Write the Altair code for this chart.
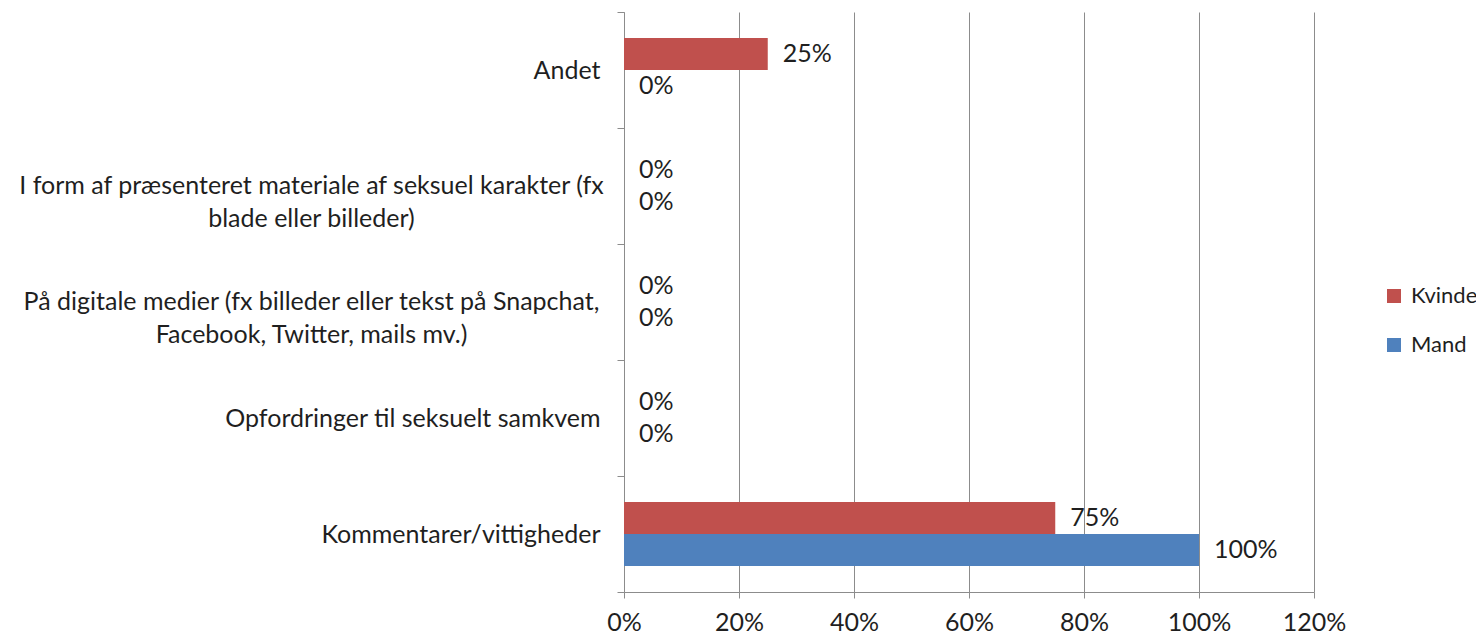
import altair as alt
import pandas as pd

categories = [
    "Andet",
    "I form af præsenteret materiale af seksuel karakter (fx\nblade eller billeder)",
    "På digitale medier (fx billeder eller tekst på Snapchat,\nFacebook, Twitter, mails mv.)",
    "Opfordringer til seksuelt samkvem",
    "Kommentarer/vittigheder",
]
groups = ["Kvinde", "Mand"]
kvinde = [0.25, 0.0, 0.0, 0.0, 0.75]
mand = [0.0, 0.0, 0.0, 0.0, 1.0]
x_ticks = [0, 0.2, 0.4, 0.6, 0.8, 1.0, 1.2]
colors = ["#C0504D", "#4F81BD"]

rows = []
for c, k, m in zip(categories, kvinde, mand):
    rows.append({"category": c, "group": "Kvinde", "value": k})
    rows.append({"category": c, "group": "Mand", "value": m})
df = pd.DataFrame(rows)

FONT = "Lato"
FS = 25
TXT = "#1f1f1f"
GRID = "#8c8c8c"

y_scale = alt.Scale(domain=categories, paddingInner=0, paddingOuter=0)
x_scale = alt.Scale(domain=[0, 1.2], nice=False)
off_scale = alt.Scale(domain=groups, paddingInner=0, paddingOuter=0.8125)

base = alt.Chart(df)

bars = base.mark_bar().encode(
    x=alt.X("value:Q", scale=x_scale,
            axis=alt.Axis(values=x_ticks, format=".0%", title=None, grid=True,
                          gridColor=GRID, domainColor=GRID, tickColor=GRID,
                          tickSize=6, labelPadding=12, labelFlush=False,
                          labelFont=FONT, labelFontSize=FS, labelColor=TXT)),
    y=alt.Y("category:N", sort=categories, scale=y_scale,
            axis=alt.Axis(title=None, orient="left", tickBand="extent", tickSize=7,
                          labelPadding=17, labelAlign="right", grid=False,
                          domainColor=GRID, tickColor=GRID, labelFont=FONT,
                          labelFontSize=FS, labelColor=TXT, labelLimit=700,
                          labelExpr="indexof(datum.label, '\\n') >= 0 ? '' : datum.label")),
    yOffset=alt.YOffset("group:N", sort=groups, scale=off_scale),
    color=alt.Color("group:N", sort=groups,
                    scale=alt.Scale(domain=groups, range=colors),
                    legend=alt.Legend(title=None, orient="none", legendX=759, legendY=273,
                                      symbolType="square", symbolSize=196,
                                      symbolStrokeWidth=0, labelOffset=6,
                                      rowPadding=27, labelFont=FONT,
                                      labelFontSize=22, labelColor=TXT, padding=0)),
)

labels = base.mark_text(align="left", baseline="middle", dx=15, font=FONT,
                        fontSize=FS, color=TXT).encode(
    x=alt.X("value:Q", scale=x_scale),
    y=alt.Y("category:N", sort=categories, scale=y_scale,
            axis=alt.Axis(title=None, orient="left", ticks=False, domain=False,
                          grid=False, labelAlign="center", labelPadding=313,
                          labelFont=FONT, labelFontSize=FS, labelColor=TXT,
                          labelLineHeight=33, labelLimit=700,
                          labelExpr="indexof(datum.label, '\\n') >= 0 ? split(datum.label, '\\n') : ''")),
    yOffset=alt.YOffset("group:N", sort=groups, scale=off_scale),
    text=alt.Text("value:Q", format=".0%"),
)

chart = alt.layer(bars, labels).resolve_axis(y="independent").properties(
    width=690, height=580,
    autosize=alt.AutoSizeParams(type="none"),
    padding={"left": 616, "top": 4, "right": 162, "bottom": 45},
).configure_view(strokeOpacity=0)

chart.save("out.html", embed_options={"renderer": "svg", "actions": False})
